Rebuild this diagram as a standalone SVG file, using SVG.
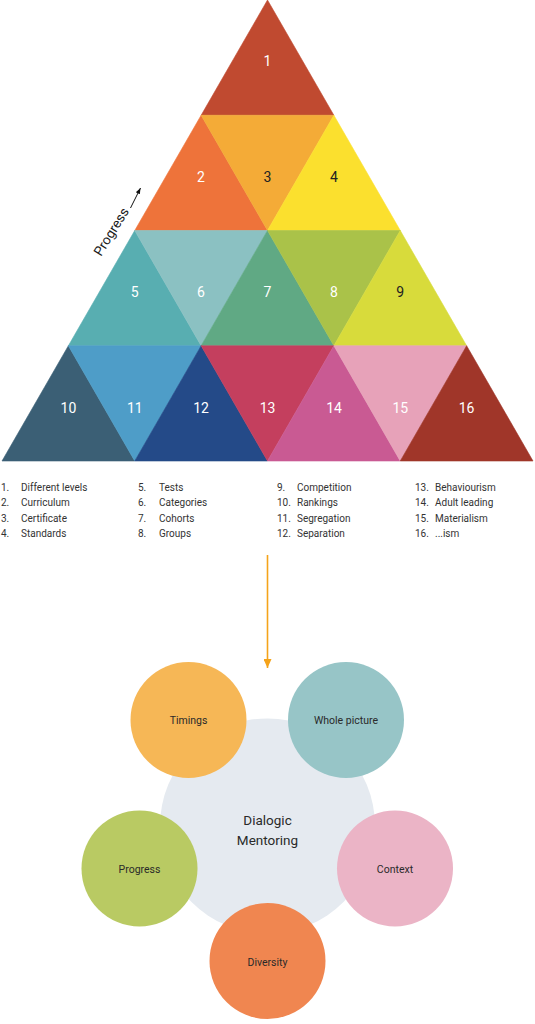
<svg xmlns="http://www.w3.org/2000/svg" width="535" height="1024" viewBox="0 0 535 1024">
<style>
.t{stroke-width:0.6;stroke-linejoin:round}
.n{font-family:Roboto,"Liberation Sans",sans-serif;font-size:14px;text-anchor:middle;fill:#ffffff}
.nd{fill:#222222}
.lg{font-family:Roboto,"Liberation Sans",sans-serif;font-size:10px;fill:#333333}
.cl{font-family:Roboto,"Liberation Sans",sans-serif;font-size:10.5px;text-anchor:middle;fill:#2a2a2a}
.big{font-family:Roboto,"Liberation Sans",sans-serif;font-size:13.5px;text-anchor:middle;fill:#2a2a2a}
</style>
<defs>
<marker id="ah" markerWidth="9" markerHeight="8" refX="9" refY="4" orient="auto" markerUnits="userSpaceOnUse" viewBox="0 0 9 8">
<path d="M0,0 L9,4 L0,8 Z" fill="#F5A31A"/>
</marker>
<marker id="ahb" markerWidth="6" markerHeight="8" refX="8" refY="3" orient="auto" markerUnits="userSpaceOnUse" viewBox="0 0 8 6">
<path d="M0,0 L8,3 L0,6 Z" fill="#111111"/>
</marker>
</defs>
<g id="pyramid">
<g id="t1"><polygon class="t" fill="#C04A30" stroke="#C04A30" points="267.5,0 201.125,115.25 333.875,115.25"/><text class="n" x="267.5" y="66">1</text></g>
<g id="t2"><polygon class="t" fill="#EE733A" stroke="#EE733A" points="201.125,115.25 134.75,230.5 267.5,230.5"/><text class="n" x="201" y="182">2</text></g>
<g id="t3"><polygon class="t" fill="#F4AB37" stroke="#F4AB37" points="201.125,115.25 333.875,115.25 267.5,230.5"/><text class="n nd" x="267.5" y="182">3</text></g>
<g id="t4"><polygon class="t" fill="#FBE02E" stroke="#FBE02E" points="333.875,115.25 267.5,230.5 400.25,230.5"/><text class="n nd" x="334" y="182">4</text></g>
<g id="t5"><polygon class="t" fill="#58AEB1" stroke="#58AEB1" points="134.75,230.5 68.375,345.75 201.125,345.75"/><text class="n" x="134.75" y="297">5</text></g>
<g id="t6"><polygon class="t" fill="#8BC1C2" stroke="#8BC1C2" points="134.75,230.5 267.5,230.5 201.125,345.75"/><text class="n" x="201" y="297">6</text></g>
<g id="t7"><polygon class="t" fill="#60A984" stroke="#60A984" points="267.5,230.5 201.125,345.75 333.875,345.75"/><text class="n" x="267.5" y="297">7</text></g>
<g id="t8"><polygon class="t" fill="#AAC249" stroke="#AAC249" points="267.5,230.5 400.25,230.5 333.875,345.75"/><text class="n" x="334" y="297">8</text></g>
<g id="t9"><polygon class="t" fill="#D8DB3B" stroke="#D8DB3B" points="400.25,230.5 333.875,345.75 466.625,345.75"/><text class="n nd" x="400.25" y="297">9</text></g>
<g id="t10"><polygon class="t" fill="#3B5F75" stroke="#3B5F75" points="68.375,345.75 2,461 134.75,461"/><text class="n" x="68.4" y="413">10</text></g>
<g id="t11"><polygon class="t" fill="#4E9DC8" stroke="#4E9DC8" points="68.375,345.75 201.125,345.75 134.75,461"/><text class="n" x="134.75" y="413">11</text></g>
<g id="t12"><polygon class="t" fill="#244A88" stroke="#244A88" points="201.125,345.75 134.75,461 267.5,461"/><text class="n" x="201" y="413">12</text></g>
<g id="t13"><polygon class="t" fill="#C43F5E" stroke="#C43F5E" points="201.125,345.75 333.875,345.75 267.5,461"/><text class="n" x="267.5" y="413">13</text></g>
<g id="t14"><polygon class="t" fill="#C95A93" stroke="#C95A93" points="333.875,345.75 267.5,461 400.25,461"/><text class="n" x="334" y="413">14</text></g>
<g id="t15"><polygon class="t" fill="#E7A2B9" stroke="#E7A2B9" points="333.875,345.75 466.625,345.75 400.25,461"/><text class="n" x="400.25" y="413">15</text></g>
<g id="t16"><polygon class="t" fill="#A03629" stroke="#A03629" points="466.625,345.75 400.25,461 533,461"/><text class="n" x="466.6" y="413">16</text></g>
</g>
<g id="progress-label">
<text font-family="Roboto,'Liberation Sans',sans-serif" font-size="13.5" fill="#1a1a1a" transform="translate(101,257) rotate(-58)">Progress</text>
</g>
<g id="legend">
<text class="lg" x="1" y="490.5">1.</text><text class="lg" x="21" y="490.5">Different levels</text>
<text class="lg" x="1" y="506">2.</text><text class="lg" x="21" y="506">Curriculum</text>
<text class="lg" x="1" y="521.5">3.</text><text class="lg" x="21" y="521.5">Certificate</text>
<text class="lg" x="1" y="536.5">4.</text><text class="lg" x="21" y="536.5">Standards</text>
<text class="lg" x="138" y="490.5">5.</text><text class="lg" x="159" y="490.5">Tests</text>
<text class="lg" x="138" y="506">6.</text><text class="lg" x="159" y="506">Categories</text>
<text class="lg" x="138" y="521.5">7.</text><text class="lg" x="159" y="521.5">Cohorts</text>
<text class="lg" x="138" y="536.5">8.</text><text class="lg" x="159" y="536.5">Groups</text>
<text class="lg" x="277" y="490.5">9.</text><text class="lg" x="297" y="490.5">Competition</text>
<text class="lg" x="277" y="506">10.</text><text class="lg" x="297" y="506">Rankings</text>
<text class="lg" x="277" y="521.5">11.</text><text class="lg" x="297" y="521.5">Segregation</text>
<text class="lg" x="277" y="536.5">12.</text><text class="lg" x="297" y="536.5">Separation</text>
<text class="lg" x="415" y="490.5">13.</text><text class="lg" x="435" y="490.5">Behaviourism</text>
<text class="lg" x="415" y="506">14.</text><text class="lg" x="435" y="506">Adult leading</text>
<text class="lg" x="415" y="521.5">15.</text><text class="lg" x="435" y="521.5">Materialism</text>
<text class="lg" x="415" y="536.5">16.</text><text class="lg" x="435" y="536.5">...ism</text>
</g>
<g id="connectors">
<line x1="130.5" y1="208" x2="140.5" y2="188" stroke="#111111" stroke-width="1" marker-end="url(#ahb)"/>
<line x1="267.5" y1="555" x2="267.5" y2="668" stroke="#F5A31A" stroke-width="1.6" marker-end="url(#ah)"/>
</g>
<g id="dialogic-mentoring">
<circle cx="267.5" cy="826" r="107.5" fill="#E5EAF0"/>
<text class="big" x="267.5" y="824.5">Dialogic</text>
<text class="big" x="267.5" y="844.5">Mentoring</text>
</g>
<g id="timings"><circle cx="188.5" cy="720" r="58" fill="#F6B756"/><text class="cl" x="188.5" y="724">Timings</text></g>
<g id="whole-picture"><circle cx="346" cy="720" r="58" fill="#97C5C7"/><text class="cl" x="346" y="724">Whole picture</text></g>
<g id="progress"><circle cx="139.5" cy="868.5" r="58" fill="#B9CA63"/><text class="cl" x="139.5" y="873">Progress</text></g>
<g id="context"><circle cx="395" cy="868.5" r="58" fill="#EBB4C6"/><text class="cl" x="395" y="873">Context</text></g>
<g id="diversity"><circle cx="267.5" cy="961" r="58" fill="#F08650"/><text class="cl" x="267.5" y="965.5">Diversity</text></g>
</svg>
